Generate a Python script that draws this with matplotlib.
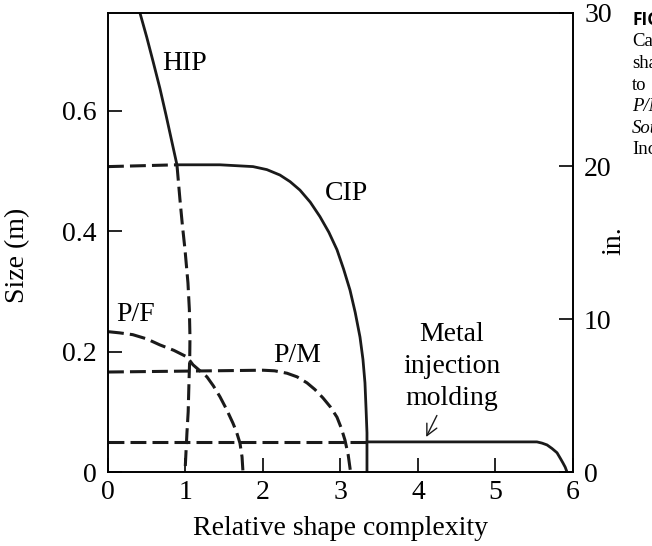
import matplotlib.pyplot as plt

plt.rcParams.update({
    "font.family": ["Liberation Serif", "DejaVu Serif"],
    "font.size": 20,
    "axes.linewidth": 1.2,
    "xtick.direction": "in", "ytick.direction": "in",
    "xtick.major.size": 10, "ytick.major.size": 10,
    "xtick.major.width": 1.2, "ytick.major.width": 1.2,
    "xtick.major.pad": 6, "ytick.major.pad": 8,
})
INK = "#1a1a1a"
DASH = (0, (5.2, 2.0))

# curves: x = relative shape complexity, y = size (m)
hip_x = [0.413, 0.50, 0.585, 0.67, 0.75, 0.825, 0.890]
hip_y = [0.762, 0.722, 0.680, 0.637, 0.592, 0.548, 0.510]
hip_d_x = [0.890, 0.929, 0.96, 0.994, 1.032, 1.05, 1.058, 1.055, 1.045, 1.035, 1.019, 0.994]
hip_d_y = [0.510, 0.452, 0.41, 0.369, 0.314, 0.27, 0.224, 0.19, 0.148, 0.10, 0.065, 0.0]

cip_x = [0.890, 1.445, 1.871, 2.05, 2.219, 2.35, 2.477, 2.61, 2.735, 2.85, 2.955,
         3.04, 3.123, 3.19, 3.252, 3.29, 3.316, 3.33, 3.342, 3.342]
cip_y = [0.510, 0.510, 0.507, 0.502, 0.493, 0.482, 0.468, 0.448, 0.424, 0.398, 0.369,
         0.337, 0.302, 0.265, 0.224, 0.187, 0.148, 0.105, 0.065, 0.0]
cip_d_x = [0.0, 0.890]
cip_d_y = [0.507, 0.510]

pf_x = [0.0, 0.15, 0.32, 0.5, 0.67, 0.85, 1.02, 1.097, 1.277, 1.36, 1.445, 1.53,
        1.613, 1.66, 1.703, 1.73, 1.742]
pf_y = [0.233, 0.231, 0.228, 0.221, 0.211, 0.202, 0.191, 0.178, 0.158, 0.143, 0.125,
        0.104, 0.081, 0.066, 0.048, 0.025, 0.0]

pm_x = [0.0, 2.0, 2.15, 2.31, 2.44, 2.568, 2.67, 2.774, 2.87, 2.955, 3.01, 3.058, 3.10, 3.13]
pm_y = [0.166, 0.169, 0.168, 0.164, 0.158, 0.148, 0.137, 0.123, 0.108, 0.091, 0.073,
        0.053, 0.028, 0.0]

mim_x = [3.342, 5.535, 5.60, 5.665, 5.73, 5.794, 5.84, 5.871, 5.90, 5.923]
mim_y = [0.050, 0.050, 0.048, 0.045, 0.039, 0.032, 0.022, 0.015, 0.008, 0.0]
mim_d_x = [0.0, 3.342]
mim_d_y = [0.050, 0.050]

caption = ["FIGURE", "Capability", "shape", "to", "P/M", "Source", "Inc."]

fig = plt.figure(figsize=(6.52, 5.46), dpi=100)
ax = fig.add_axes([0.1656, 0.1355, 0.7132, 0.8407])

solid = dict(color=INK, lw=2.0, solid_capstyle="butt", solid_joinstyle="round")
dashed = dict(color=INK, lw=2.2, linestyle=DASH, dash_capstyle="butt")
ax.plot(hip_x, hip_y, **solid)
ax.plot(hip_d_x, hip_d_y, **dashed)
ax.plot(cip_x, cip_y, **solid)
ax.plot(cip_d_x, cip_d_y, **dashed)
ax.plot(pf_x, pf_y, **dashed)
ax.plot(pm_x, pm_y, **dashed)
ax.plot(mim_x, mim_y, **solid)
ax.plot(mim_d_x, mim_d_y, **dashed)

ax.set_xlim(0, 6)
ax.set_ylim(0, 0.762)
ax.set_xticks(range(7))
ax.set_yticks([0, 0.2, 0.4, 0.6])
ax.set_yticklabels(["0", "0.2", "0.4", "0.6"])
ax.set_xlabel("Relative shape complexity")
ax.xaxis.set_label_coords(0.5, -0.095)
ax.set_ylabel("Size (m)")
ax.yaxis.set_label_coords(-0.168, 0.473)

ax2 = ax.twinx()
ax2.set_ylim(0, 30)
ax2.set_yticks([0, 10, 20, 30])
ax2.tick_params(axis="y", direction="in", length=10, width=1.2, pad=8)
ax2.set_ylabel("in.", rotation=90)
ax2.yaxis.set_label_coords(1.06, 0.505)

ax.text(0.70, 0.678, "HIP", va="center", ha="left")
ax.text(2.80, 0.463, "CIP", va="center", ha="left")
ax.text(0.10, 0.261, "P/F", va="center", ha="left")
ax.text(2.13, 0.194, "P/M", va="center", ha="left")
ax.text(4.44, 0.175, "Metal\ninjection\nmolding", ha="center", va="center",
        multialignment="center", linespacing=1.35)
ax.annotate("", xy=(4.09, 0.054), xytext=(4.26, 0.098),
            arrowprops=dict(arrowstyle="->", color=INK, lw=1.0))

# caption of the page, cut off at the right edge as in the scan
fig.text(632 / 652, 1 - 20 / 546, caption[0], family="Open Sans", weight="bold",
         fontsize=12.5, va="center", ha="left")
for i, word in enumerate(caption[1:]):
    style = "italic" if word in ("P/M", "Source") else "normal"
    fig.text(632 / 652, 1 - (42 + 21.5 * i) / 546, word, fontsize=13.5,
             style=style, va="center", ha="left")

fig.savefig("out.png", dpi=100)
